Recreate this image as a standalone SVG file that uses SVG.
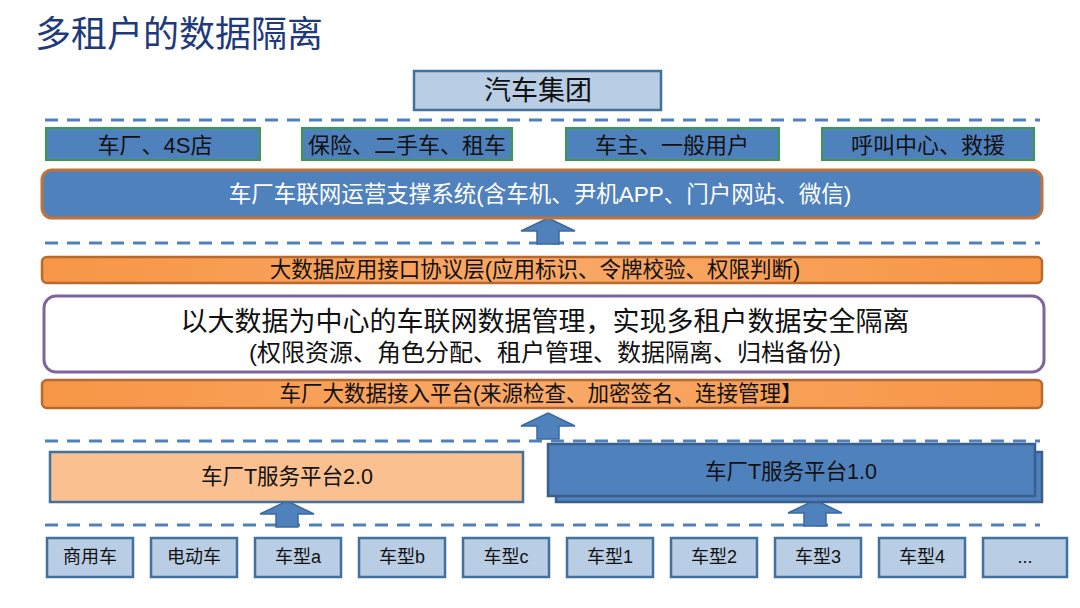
<svg xmlns="http://www.w3.org/2000/svg" width="1080" height="608" viewBox="0 0 1080 608">
<style>
text{font-family:"Liberation Sans","Noto Sans CJK SC",sans-serif;text-anchor:middle;dominant-baseline:central}
.dash{stroke:#4F81BD;stroke-width:3;stroke-dasharray:13 9;fill:none}
.lb{fill:#B9CDE5;stroke:#41719C;stroke-width:2.5}
.gb{fill:#4F81BD;stroke:#3C9A48;stroke-width:2}
.ob{fill:url(#og);stroke:#B86A2E;stroke-width:2.5}
.arr{fill:#4F81BD;stroke:#3A6AA0;stroke-width:1.5}
.t18{font-size:18px;fill:#111}
.t22{font-size:22px;fill:#111}
</style>
<defs>
<linearGradient id="og" x1="0" y1="0" x2="1" y2="0">
<stop offset="0" stop-color="#F79646"/><stop offset="0.5" stop-color="#F9A867"/><stop offset="1" stop-color="#F79646"/>
</linearGradient>
<path id="up" d="M0,0 L27,13 L11,13 L11,26 L-11,26 L-11,13 L-27,13 Z"/>
</defs>
<rect width="1080" height="608" fill="#fff"/>
<text x="35" y="34" style="text-anchor:start;font-size:36px;fill:#1F3A7A">多租户的数据隔离</text>

<g id="connectors">
<line class="dash" x1="45" y1="120" x2="1040" y2="120"/>
<line class="dash" x1="45" y1="243" x2="1040" y2="243"/>
<line class="dash" x1="45" y1="441" x2="1040" y2="441"/>
<line class="dash" x1="45" y1="525" x2="1040" y2="525"/>
<use href="#up" class="arr" x="548" y="218"/>
<use href="#up" class="arr" x="548" y="413"/>
<use href="#up" class="arr" x="287" y="501"/>
<use href="#up" class="arr" x="815" y="500"/>
</g>

<g id="group"><rect class="lb" x="414" y="71" width="247" height="39"/><text x="538" y="91" style="font-size:27px;fill:#111">汽车集团</text></g>

<g id="u1"><rect class="gb" x="46" y="128" width="214" height="32"/><text class="t22" x="155" y="145">车厂、4S店</text></g>
<g id="u2"><rect class="gb" x="302" y="128" width="210" height="32"/><text class="t22" x="407" y="145">保险、二手车、租车</text></g>
<g id="u3"><rect class="gb" x="566" y="128" width="213" height="32"/><text class="t22" x="672" y="145">车主、一般用户</text></g>
<g id="u4"><rect class="gb" x="822" y="128" width="212" height="32"/><text class="t22" x="928" y="145">呼叫中心、救援</text></g>

<g id="ops"><rect x="42" y="170" width="1000" height="48" rx="10" fill="#4F81BD" stroke="#C0733A" stroke-width="3"/><text x="540" y="194" style="font-size:22.5px;fill:#fff">车厂车联网运营支撑系统(含车机、尹机APP、门户网站、微信)</text></g>

<g id="api"><rect class="ob" x="42" y="257" width="1000" height="26" rx="5"/><text x="535" y="270" style="font-size:21.5px;fill:#111">大数据应用接口协议层(应用标识、令牌校验、权限判断)</text></g>

<g id="core"><rect x="44" y="296" width="1000" height="76" rx="12" fill="#fff" stroke="#8064A2" stroke-width="3"/>
<text x="545" y="322" style="font-size:27px;fill:#111">以大数据为中心的车联网数据管理，实现多租户数据安全隔离</text>
<text x="545" y="352" style="font-size:24px;fill:#111">(权限资源、角色分配、租户管理、数据隔离、归档备份)</text></g>

<g id="access"><rect class="ob" x="42" y="380" width="1000" height="28" rx="5"/><text x="541" y="394" style="font-size:21.5px;fill:#111">车厂大数据接入平台(来源检查、加密签名、连接管理】</text></g>

<g id="tsp2"><rect x="50" y="452" width="473" height="50" fill="#FAC090" stroke="#41719C" stroke-width="2.5"/><text x="287" y="477" style="font-size:21.5px;fill:#111">车厂T服务平台2.0</text></g>

<g id="tsp1"><rect x="556" y="452" width="486" height="50" fill="#4F81BD" stroke="#3A5F8E" stroke-width="2.5"/><rect x="548" y="444" width="487" height="52" fill="#4F81BD" stroke="#3A5F8E" stroke-width="2.5"/><text x="791" y="472" style="font-size:21.5px;fill:#111">车厂T服务平台1.0</text></g>

<g id="c1"><rect class="lb" x="47" y="538" width="86" height="39"/><text class="t18" x="90" y="557">商用车</text></g>
<g id="c2"><rect class="lb" x="151" y="538" width="86" height="39"/><text class="t18" x="194" y="557">电动车</text></g>
<g id="c3"><rect class="lb" x="255" y="538" width="86" height="39"/><text class="t18" x="298" y="557">车型a</text></g>
<g id="c4"><rect class="lb" x="359" y="538" width="86" height="39"/><text class="t18" x="402" y="557">车型b</text></g>
<g id="c5"><rect class="lb" x="463" y="538" width="86" height="39"/><text class="t18" x="506" y="557">车型c</text></g>
<g id="c6"><rect class="lb" x="567" y="538" width="86" height="39"/><text class="t18" x="610" y="557">车型1</text></g>
<g id="c7"><rect class="lb" x="671" y="538" width="86" height="39"/><text class="t18" x="714" y="557">车型2</text></g>
<g id="c8"><rect class="lb" x="775" y="538" width="86" height="39"/><text class="t18" x="818" y="557">车型3</text></g>
<g id="c9"><rect class="lb" x="879" y="538" width="86" height="39"/><text class="t18" x="922" y="557">车型4</text></g>
<g id="c10"><rect class="lb" x="983" y="538" width="84" height="39"/><text class="t18" x="1025" y="557">...</text></g>
</svg>
